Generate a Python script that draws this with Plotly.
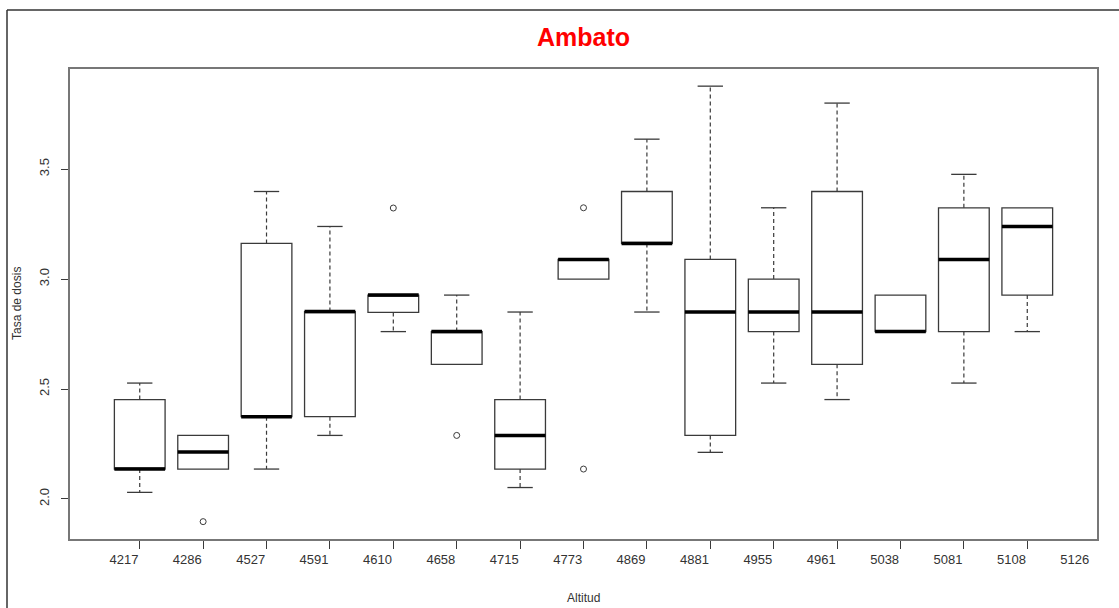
import plotly.graph_objects as go

# ---- data ----
altitudes = ["4217", "4286", "4527", "4591", "4610", "4658", "4715", "4773",
             "4869", "4881", "4955", "4961", "5038", "5081", "5108", "5126"]
q1 = [2.136, 2.136, 2.374, 2.374, 2.848, 2.612, 2.136, 3.000, 3.162, 2.289, 2.761, 2.612, 2.761, 2.761, 2.927]
median = [2.136, 2.214, 2.374, 2.852, 2.927, 2.761, 2.289, 3.089, 3.162, 2.850, 2.850, 2.850, 2.761, 3.089, 3.239]
q3 = [2.452, 2.289, 3.162, 2.852, 2.927, 2.761, 2.452, 3.089, 3.398, 3.089, 3.000, 3.398, 2.927, 3.324, 3.324]
lower = [2.030, 2.136, 2.136, 2.289, 2.761, 2.612, 2.052, 3.000, 2.850, 2.212, 2.527, 2.452, 2.761, 2.527, 2.761]
upper = [2.527, 2.289, 3.398, 3.239, 2.927, 2.927, 2.850, 3.089, 3.636, 3.877, 3.324, 3.800, 2.927, 3.476, 3.324]
outlier_box = [2, 5, 6, 8, 8]
outlier_val = [1.897, 3.323, 2.289, 3.324, 2.136]
y_ticks = [2.0, 2.5, 3.0, 3.5]

n = len(q1)
pos = list(range(1, n + 1))
BOXW = 0.8
CAPW = 0.4
LINE = "#3a3a3a"
FONT = "Liberation Sans, Arial, sans-serif"

fig = go.Figure()

# boxes (no plotly whiskers: fences equal quartiles)
fig.add_trace(go.Box(
    x=pos, q1=q1, median=median, q3=q3, lowerfence=q1, upperfence=q3,
    width=BOXW, fillcolor="white", line=dict(color=LINE, width=1.3),
    whiskerwidth=0, boxpoints=False, showlegend=False, hoverinfo="skip"))

# dashed whiskers and caps
wx, wy, cx, cy = [], [], [], []
for p, a, b, lo, hi in zip(pos, q1, q3, lower, upper):
    if hi > b:
        wx += [p, p, None]; wy += [b, hi, None]
        cx += [p - CAPW / 2, p + CAPW / 2, None]; cy += [hi, hi, None]
    if lo < a:
        wx += [p, p, None]; wy += [a, lo, None]
        cx += [p - CAPW / 2, p + CAPW / 2, None]; cy += [lo, lo, None]
fig.add_trace(go.Scatter(x=wx, y=wy, mode="lines", line=dict(color=LINE, width=1.2, dash="4px,3px"),
                         showlegend=False, hoverinfo="skip"))
fig.add_trace(go.Scatter(x=cx, y=cy, mode="lines", line=dict(color=LINE, width=1.3),
                         showlegend=False, hoverinfo="skip"))

# thick medians
mx, my = [], []
for p, m in zip(pos, median):
    mx += [p - BOXW / 2, p + BOXW / 2, None]; my += [m, m, None]
fig.add_trace(go.Scatter(x=mx, y=my, mode="lines", line=dict(color="black", width=3.5),
                         showlegend=False, hoverinfo="skip"))

# outliers
fig.add_trace(go.Scatter(x=outlier_box, y=outlier_val, mode="markers",
                         marker=dict(symbol="circle-open", size=6, color=LINE, line=dict(width=1)),
                         showlegend=False, hoverinfo="skip"))

# invisible trace on the label axis
fig.add_trace(go.Scatter(x=[1], y=[2.0], xaxis="x2", mode="markers", marker=dict(opacity=0),
                         showlegend=False, hoverinfo="skip"))

W, H = 1119, 608
ML, MR, MT, MB = 70, 22, 69, 69
pw, ph = W - ML - MR, H - MT - MB
xr = [-0.1, n + 1.1]

fig.update_layout(
    width=W, height=H,
    margin=dict(l=ML, r=MR, t=MT, b=MB, autoexpand=False),
    paper_bgcolor="white", plot_bgcolor="white",
    font=dict(family=FONT, color="#333333", size=13),
    title=dict(text="<b>Ambato</b>", x=(0.5 * pw + ML) / W, xanchor="center",
               y=1 - 37 / H, yanchor="middle",
               font=dict(family=FONT, size=25, color="#ff0000")),
    xaxis=dict(range=xr, tickvals=pos, ticktext=[""] * n, ticks="outside", ticklen=8,
               tickcolor=LINE, tickwidth=1, showgrid=False, zeroline=False, automargin=False,
               showline=True, linecolor="#777777", linewidth=1.5, mirror=True),
    xaxis2=dict(range=xr, overlaying="x", side="bottom", automargin=False,
                tickvals=[i + 1 - 0.25 for i in range(len(altitudes))], ticktext=altitudes,
                ticks="outside", ticklen=8, tickcolor="rgba(0,0,0,0)",
                showgrid=False, zeroline=False, showline=False,
                tickfont=dict(size=13, color="#333333")),
    yaxis=dict(range=[1.818, 3.955], tickvals=y_ticks, ticktext=[f"{v:.1f}" for v in y_ticks],
               tickangle=-90, ticks="outside", ticklen=7, tickcolor=LINE,
               ticklabelstandoff=7, automargin=False,
               showgrid=False, zeroline=False,
               showline=True, linecolor="#777777", linewidth=1.5, mirror=True,
               tickfont=dict(size=13, color="#333333")),
    annotations=[
        dict(text="Altitud", xref="paper", yref="paper", x=0.5, y=-(598 - (H - MB)) / ph,
             xanchor="center", yanchor="middle", showarrow=False,
             font=dict(size=12, color="#333333")),
        dict(text="Tasa de dosis", xref="paper", yref="paper", x=-(ML - 17) / pw, y=0.5,
             textangle=-90, xanchor="center", yanchor="middle", showarrow=False,
             font=dict(size=12, color="#333333")),
    ],
)

# outer frame (top and left edges, as in the screenshot)
fx = (7 - ML) / pw
fy_top = 1 + (MT - 10) / ph
fig.add_shape(type="line", xref="paper", yref="paper", x0=fx, x1=1 + MR / pw,
              y0=fy_top, y1=fy_top, line=dict(color="#333333", width=1.5))
fig.add_shape(type="line", xref="paper", yref="paper", x0=fx, x1=fx,
              y0=fy_top, y1=-MB / ph, line=dict(color="#333333", width=1.5))

fig.write_html("out.html", config={"displayModeBar": False},
               post_script="document.body.style.margin='0';")
